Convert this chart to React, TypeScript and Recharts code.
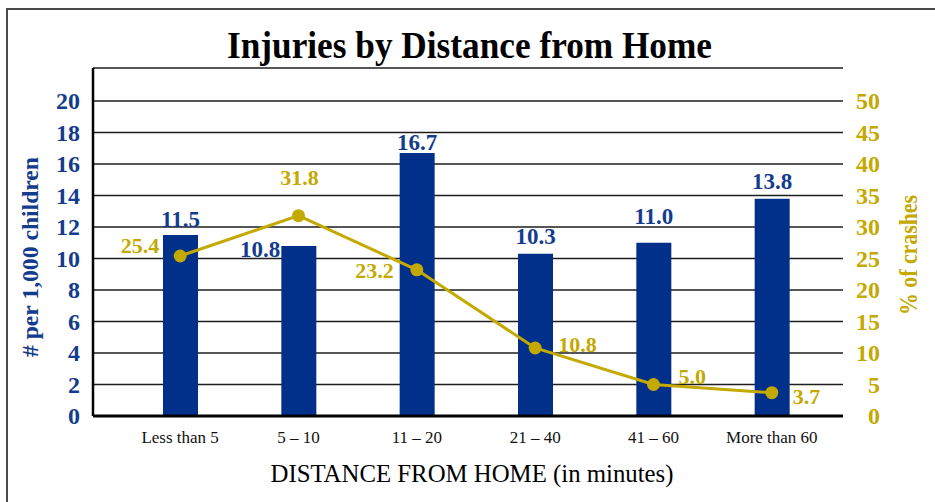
import React from 'react';
import { ComposedChart, Bar, Line, XAxis, YAxis, CartesianGrid, LabelList } from 'recharts';

const categories = ['Less than 5', '5 – 10', '11 – 20', '21 – 40', '41 – 60', 'More than 60'];
const injuriesPer1000 = [11.5, 10.8, 16.7, 10.3, 11.0, 13.8];
const crashPercent = [25.4, 31.8, 23.2, 10.8, 5.0, 3.7];
const leftTicks = [0, 2, 4, 6, 8, 10, 12, 14, 16, 18, 20];
const rightTicks = [0, 5, 10, 15, 20, 25, 30, 35, 40, 45, 50];

const title = 'Injuries by Distance from Home';
const xTitle = 'DISTANCE FROM HOME (in minutes)';
const leftTitle = '# per 1,000 children';
const rightTitle = '% of crashes';

const data = categories.map((cat, i) => ({ cat, inj: injuriesPer1000[i], pct: crashPercent[i] }));

const FONT = '"Liberation Serif", "Times New Roman", serif';
const NAVY = '#00308a';
const BLUE_TEXT = '#143c8c';
const GOLD = '#c4a900';
const W = 919;
const H = 486;

const LeftTick = (props: any) => {
  const { x, y, payload } = props;
  return (
    <text x={x - 13} y={y} dy="0.34em" textAnchor="end" fontFamily={FONT} fontWeight="bold" fontSize={24} fill={BLUE_TEXT}>
      {payload.value}
    </text>
  );
};

const RightTick = (props: any) => {
  const { x, y, payload } = props;
  return (
    <text x={x + 37} y={y} dy="0.34em" textAnchor="end" fontFamily={FONT} fontWeight="bold" fontSize={24} fill={GOLD}>
      {payload.value}
    </text>
  );
};

const BottomTick = (props: any) => {
  const { x, y, payload } = props;
  return (
    <text x={x} y={y + 27} textAnchor="middle" fontFamily={FONT} fontSize={17} fill="#111">
      {payload.value}
    </text>
  );
};

const barLabelOffsets = [-8, 0, -3, -10, -19, -10];
const BarLabel = (props: any) => {
  const { x, y, width, value, index } = props;
  if (index === 1) {
    return (
      <text x={x - 1} y={y + 11} textAnchor="end" fontFamily={FONT} fontWeight="bold" fontSize={23} fill={BLUE_TEXT}>
        {Number(value).toFixed(1)}
      </text>
    );
  }
  return (
    <text x={x + width / 2} y={y + barLabelOffsets[index]} textAnchor="middle" fontFamily={FONT} fontWeight="bold" fontSize={23} fill={BLUE_TEXT}>
      {Number(value).toFixed(1)}
    </text>
  );
};

const lineLabelPlacement: { dx: number; dy: number; anchor: 'start' | 'middle' | 'end' }[] = [
  { dx: -21, dy: -3, anchor: 'end' },
  { dx: 1, dy: -31, anchor: 'middle' },
  { dx: -23, dy: 8, anchor: 'end' },
  { dx: 23, dy: 4, anchor: 'start' },
  { dx: 25, dy: -1, anchor: 'start' },
  { dx: 21, dy: 11, anchor: 'start' },
];
const LineLabel = (props: any) => {
  const { x, y, value, index } = props;
  const p = lineLabelPlacement[index];
  return (
    <text x={x + p.dx} y={y + p.dy} textAnchor={p.anchor} fontFamily={FONT} fontWeight="bold" fontSize={22} fill={GOLD}>
      {Number(value).toFixed(1)}
    </text>
  );
};

export default function App() {
  return (
    <div style={{ position: 'relative', width: W, height: H }}>
      <style>{'body{overflow:hidden;}'}</style>
      <div style={{ position: 'absolute', left: 0, top: 0 }}>
        <ComposedChart width={W} height={H} data={data} margin={{ top: 60, right: 0, bottom: 0, left: 0 }}>
          <CartesianGrid yAxisId="left" vertical={false} stroke="#1e1e1e" strokeWidth={1.5} />
          <XAxis
            dataKey="cat"
            height={78}
            padding={{ left: 28, right: 12 }}
            axisLine={{ stroke: '#000', strokeWidth: 3 }}
            tickLine={false}
            tickSize={0}
            tickMargin={0}
            interval={0}
            tick={<BottomTick />}
          />
          <YAxis
            yAxisId="left"
            width={85}
            domain={[0, 22.1]}
            ticks={leftTicks}
            allowDataOverflow
            axisLine={{ stroke: '#000', strokeWidth: 2.5 }}
            tickLine={false}
            tickSize={0}
            tickMargin={0}
            tick={<LeftTick />}
          />
          <YAxis
            yAxisId="right"
            orientation="right"
            width={84}
            domain={[0, 55.25]}
            ticks={rightTicks}
            allowDataOverflow
            axisLine={false}
            tickLine={false}
            tickSize={0}
            tickMargin={0}
            tick={<RightTick />}
          />
          <Bar yAxisId="left" dataKey="inj" fill={NAVY} barSize={35} isAnimationActive={false}>
            <LabelList dataKey="inj" content={<BarLabel />} />
          </Bar>
          <Line
            yAxisId="right"
            type="linear"
            dataKey="pct"
            stroke={GOLD}
            strokeWidth={3}
            dot={{ r: 6.5, fill: GOLD, stroke: 'none' }}
            activeDot={false}
            isAnimationActive={false}
          >
            <LabelList dataKey="pct" content={<LineLabel />} />
          </Line>
        </ComposedChart>
      </div>
      <svg width={W} height={H} style={{ position: 'absolute', left: 0, top: 0, pointerEvents: 'none' }}>
        <text x={461.5} y={50} textAnchor="middle" fontFamily={FONT} fontWeight="bold" fontSize={38} fill="#000" textLength={485} lengthAdjust="spacingAndGlyphs">
          {title}
        </text>
        <text x={464} y={474} textAnchor="middle" fontFamily={FONT} fontSize={26} fill="#000" textLength={403} lengthAdjust="spacingAndGlyphs">
          {xTitle}
        </text>
        <text
          x={30}
          y={249}
          transform="rotate(-90 30 249)"
          textAnchor="middle"
          fontFamily={FONT}
          fontWeight="bold"
          fontSize={24}
          fill={BLUE_TEXT}
          textLength={200}
          lengthAdjust="spacingAndGlyphs"
        >
          {leftTitle}
        </text>
        <text
          x={909}
          y={247}
          transform="rotate(-90 909 247)"
          textAnchor="middle"
          fontFamily={FONT}
          fontWeight="bold"
          fontSize={26}
          fill={GOLD}
          textLength={120}
          lengthAdjust="spacingAndGlyphs"
        >
          {rightTitle}
        </text>
      </svg>
      <div style={{ position: 'fixed', left: 6, top: 8, width: 2, height: 600, background: '#4a4a4a', zIndex: 10 }} />
      <div style={{ position: 'fixed', left: 6, top: 8, width: 1000, height: 2, background: '#4a4a4a', zIndex: 10 }} />
    </div>
  );
}
